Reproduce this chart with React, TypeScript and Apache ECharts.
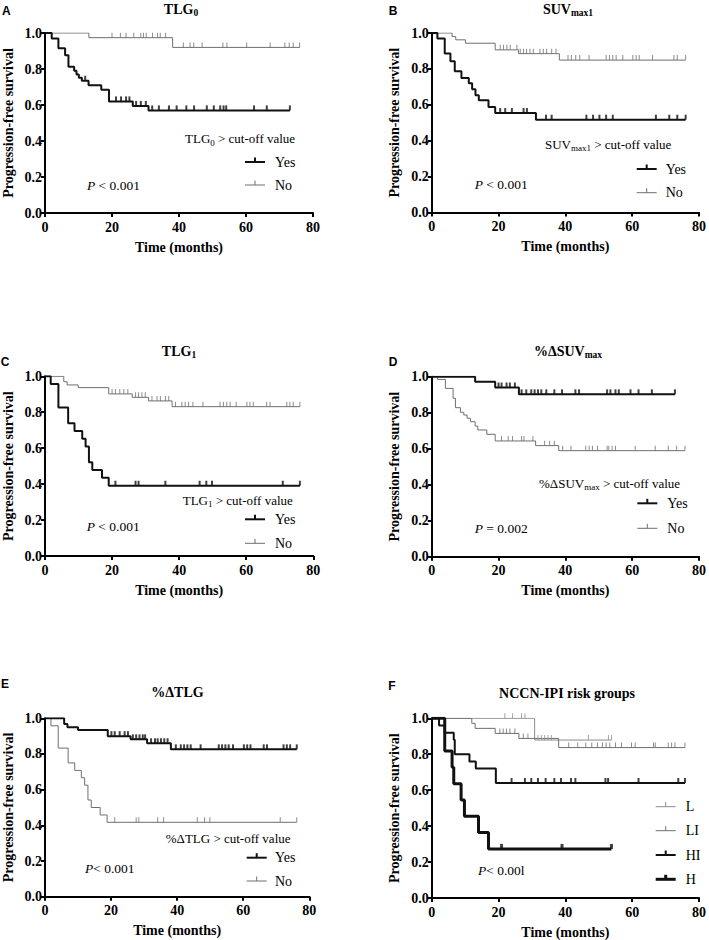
import React, { useEffect, useRef } from "react";
import * as echarts from "echarts";

const SERIF = "Liberation Serif, Times New Roman, serif";
const SANS = "Liberation Sans, Arial, sans-serif";
const BLACK = "#111111";
const GRAY = "#6f6f6f";
const LIGHT = "#8c8c8c";

// ---------- Panel A: TLG0 ----------
const aYesEvents = [[2.0, 0.97], [4.0, 0.915], [6.0, 0.877], [7.0, 0.813], [8.7, 0.79], [9.4, 0.77], [10.1, 0.752], [11.0, 0.735], [13.0, 0.71], [16.8, 0.685], [19.1, 0.62], [26.2, 0.595], [30.9, 0.57]];
const aYesEnd = 73.1;
const aYesCensor = [12.0, 21.2, 22.7, 24.2, 25.2, 27.2, 28.6, 30.1, 32.0, 34.0, 37.0, 39.3, 42.2, 44.5, 48.3, 50.4, 52.3, 53.3, 54.1, 62.4, 66.2, 73.1];
const aNoEvents = [[13.1, 0.974], [38.1, 0.92]];
const aNoEnd = 76.0;
const aNoCensor = [20.0, 22.5, 24.2, 26.5, 28.6, 29.4, 30.2, 32.1, 33.6, 34.4, 36.0, 41.3, 43.3, 44.4, 46.9, 53.1, 54.3, 60.2, 67.2, 71.6, 72.9, 74.1, 76.0];

// ---------- Panel B: SUVmax1 ----------
const bYesEvents = [[1.7, 0.97], [3.9, 0.886], [5.6, 0.843], [6.9, 0.787], [8.9, 0.75], [11.1, 0.72], [12.1, 0.687], [13.1, 0.653], [14.1, 0.625], [17.0, 0.588], [19.0, 0.554], [31.2, 0.517]];
const bYesEnd = 76.0;
const bYesCensor = [20.5, 22.0, 24.0, 27.5, 28.5, 34.2, 35.9, 46.3, 48.3, 50.2, 52.2, 54.2, 67.1, 71.1, 73.5, 76.0];
const bNoEvents = [[6.1, 0.98], [7.2, 0.962], [10.1, 0.943], [19.0, 0.906], [26.0, 0.885], [38.2, 0.849]];
const bNoEnd = 76.0;
const bNoCensor = [20.5, 21.5, 22.5, 23.5, 25.5, 26.5, 27.5, 28.4, 29.4, 30.4, 32.4, 33.4, 34.4, 35.9, 37.2, 40.8, 41.8, 43.1, 44.3, 47.1, 52.2, 53.2, 54.2, 55.2, 57.2, 60.2, 61.2, 62.1, 66.1, 72.5, 73.5, 76.0];

// ---------- Panel C: TLG1 ----------
const cYesEvents = [[1.7, 0.957], [4.0, 0.826], [6.9, 0.739], [8.8, 0.696], [11.1, 0.652], [12.1, 0.609], [13.1, 0.522], [14.1, 0.478], [17.0, 0.435], [19.0, 0.391]];
const cYesEnd = 76.0;
const cYesCensor = [21.0, 27.0, 27.9, 35.9, 46.1, 48.1, 49.8, 70.9, 76.0];
const cNoEvents = [[5.6, 0.97], [6.6, 0.952], [9.9, 0.937], [19.0, 0.902], [26.0, 0.883], [30.9, 0.863], [37.9, 0.831]];
const cNoEnd = 76.0;
const cNoCensor = [20.0, 21.0, 22.3, 23.5, 24.7, 27.0, 27.9, 28.9, 29.9, 31.9, 33.4, 34.4, 35.9, 36.9, 38.9, 40.8, 41.8, 42.8, 44.1, 47.1, 52.2, 53.2, 54.2, 55.2, 57.0, 60.2, 61.1, 62.1, 66.1, 67.1, 72.1, 73.0, 74.0, 76.0];

// ---------- Panel D: %ΔSUVmax ----------
const dYesEvents = [[13.0, 0.972], [19.0, 0.94], [26.1, 0.902]];
const dYesEnd = 72.8;
const dYesCensor = [20.0, 20.9, 22.4, 23.4, 24.9, 26.9, 28.3, 29.8, 30.8, 31.8, 32.8, 34.3, 36.7, 39.0, 43.0, 44.1, 52.5, 53.5, 55.0, 56.0, 59.5, 61.9, 65.9, 72.8];
const dNoEvents = [[1.7, 0.985], [4.1, 0.935], [6.4, 0.88], [7.1, 0.828], [8.6, 0.802], [9.6, 0.787], [10.6, 0.769], [11.6, 0.75], [13.0, 0.726], [13.8, 0.704], [16.5, 0.68], [19.0, 0.643], [31.1, 0.617], [38.0, 0.589]];
const dNoEnd = 75.8;
const dNoCensor = [20.9, 22.9, 24.2, 26.9, 27.6, 30.3, 33.8, 35.3, 36.7, 39.2, 41.7, 46.1, 47.1, 48.1, 49.6, 52.5, 53.0, 54.0, 55.0, 60.9, 66.9, 70.8, 73.3, 75.8];

// ---------- Panel E: %ΔTLG ----------
const eYesEvents = [[5.8, 0.968], [6.8, 0.95], [10.0, 0.935], [19.0, 0.9], [25.9, 0.882], [30.9, 0.86], [38.1, 0.826]];
const eYesEnd = 76.2;
const eYesCensor = [20.1, 21.1, 22.6, 24.1, 25.1, 26.6, 27.6, 28.6, 29.6, 30.3, 32.1, 33.3, 34.1, 35.1, 36.1, 37.1, 39.6, 41.1, 42.1, 43.1, 44.1, 47.1, 52.6, 53.6, 54.6, 55.6, 56.9, 60.2, 61.2, 62.2, 66.2, 67.2, 72.2, 73.2, 74.2, 76.2];
const eNoEvents = [[1.8, 0.958], [4.0, 0.833], [7.0, 0.75], [9.0, 0.708], [11.0, 0.667], [12.0, 0.625], [13.0, 0.542], [14.0, 0.5], [16.7, 0.458], [18.8, 0.417]];
const eNoEnd = 76.2;
const eNoCensor = [21.1, 27.6, 28.4, 34.1, 35.9, 46.1, 48.3, 49.9, 71.2, 76.2];

// ---------- Panel F: NCCN-IPI ----------
const fLEvents = [[30.8, 0.879]];
const fLEnd = 53.8;
const fLCensor = [21.9, 24.2, 26.9, 27.9, 31.8, 32.8, 33.8, 34.8, 35.8, 46.9, 52.9, 53.8];
const fLIEvents = [[12.0, 0.972], [13.0, 0.944], [19.0, 0.916], [26.1, 0.888], [38.0, 0.837]];
const fLIEnd = 75.8;
const fLICensor = [20.4, 21.4, 22.4, 23.4, 24.9, 27.4, 28.8, 41.0, 43.7, 46.1, 47.9, 49.6, 51.1, 52.2, 53.3, 55.0, 56.8, 59.8, 60.9, 66.4, 66.9, 70.8, 71.8, 72.8, 75.8];
const fHIEvents = [[2.2, 0.96], [3.9, 0.92], [6.6, 0.88], [6.9, 0.8], [11.3, 0.76], [13.2, 0.72], [19.2, 0.64]];
const fHIEnd = 75.8;
const fHICensor = [23.9, 27.9, 29.8, 31.8, 34.1, 36.7, 38.7, 41.7, 43.0, 52.0, 52.8, 61.9, 73.8, 75.8];
const fHEvents = [[3.9, 0.818], [6.1, 0.727], [6.6, 0.636], [8.8, 0.545], [9.8, 0.455], [14.0, 0.364], [17.0, 0.273]];
const fHEnd = 53.8;
const fHCensor = [20.9, 39.0, 53.8];

const xTicks = [0, 20, 40, 60, 80];
const yTicks = [0, 0.2, 0.4, 0.6, 0.8, 1.0];

// grid boxes (layout only)
const grids = [
  { left: 43.5, top: 33, width: 269.5, height: 180 },
  { left: 431.7, top: 33, width: 269, height: 179.5 },
  { left: 44.3, top: 376.3, width: 269, height: 179.7 },
  { left: 431.7, top: 376.7, width: 270, height: 180 },
  { left: 43.3, top: 718.3, width: 266, height: 178.4 },
  { left: 431.7, top: 718.3, width: 270, height: 180 },
];

function stepAt(events: number[][], t: number): number {
  let s = 1;
  for (const [et, es] of events) if (et <= t) s = es;
  return s;
}

function curve(idx: number, events: number[][], end: number, censor: number[], color: string, width: number, z: number) {
  const last = events.length ? events[events.length - 1][1] : 1;
  const data = [[0, 1], ...events, [end, last]];
  return [
    {
      type: "line",
      xAxisIndex: idx,
      yAxisIndex: idx,
      step: "end",
      data,
      symbol: "none",
      showSymbol: false,
      silent: true,
      z,
      lineStyle: { color, width },
    },
    {
      type: "scatter",
      xAxisIndex: idx,
      yAxisIndex: idx,
      data: censor.map((t) => [t, stepAt(events, t)]),
      symbol: "rect",
      symbolSize: [width, 5],
      symbolOffset: [0, -2.5],
      silent: true,
      z,
      itemStyle: { color },
    },
  ];
}

const labelStyle = { color: "#000", fontFamily: SERIF, fontWeight: "bold", fontSize: 14 };

function txt(x: number, y: number, text: string, rich: any, align = "left") {
  return {
    type: "text",
    x,
    y,
    silent: true,
    style: {
      text,
      rich,
      fill: "#000",
      fontFamily: SERIF,
      fontSize: 13,
      align,
      verticalAlign: "middle",
      textAlign: align,
      textVerticalAlign: "middle",
    },
  };
}

const richN = {
  n: { fontFamily: SERIF, fontSize: 13, lineHeight: 17, fill: "#000" },
  i: { fontFamily: SERIF, fontSize: 13, lineHeight: 17, fontStyle: "italic", fill: "#000" },
  s: { fontFamily: SERIF, fontSize: 9, lineHeight: 9, verticalAlign: "bottom", fill: "#000" },
};
const richP = {
  n: { fontFamily: SERIF, fontSize: 13.5, lineHeight: 17, fill: "#000" },
  i: { fontFamily: SERIF, fontSize: 13.5, lineHeight: 17, fontStyle: "italic", fill: "#000" },
};
const richB = {
  b: { fontFamily: SERIF, fontSize: 14, fontWeight: "bold", lineHeight: 18, fill: "#000" },
  s: { fontFamily: SERIF, fontSize: 9.5, fontWeight: "bold", lineHeight: 10, verticalAlign: "bottom", fill: "#000" },
};

function letter(x: number, y: number, t: string) {
  return {
    type: "text",
    x,
    y,
    silent: true,
    style: { text: t, fill: "#000", fontFamily: SANS, fontWeight: "bold", fontSize: 12, align: "center", verticalAlign: "middle", textAlign: "center", textVerticalAlign: "middle" },
  };
}

function legendItem(x1: number, y: number, color: string, width: number, label: string, tx: number) {
  const x2 = x1 + 20;
  const mx = (x1 + x2) / 2;
  return [
    { type: "line", silent: true, shape: { x1, y1: y, x2, y2: y }, style: { stroke: color, lineWidth: width } },
    { type: "line", silent: true, shape: { x1: mx, y1: y, x2: mx, y2: y - 4.5 }, style: { stroke: color, lineWidth: width } },
    txt(tx, y, `{n|${label}}`, { n: { ...richN.n, fontSize: 14 } }),
  ];
}

export default function App() {
  const ref = useRef<HTMLDivElement>(null);
  useEffect(() => {
    if (!ref.current) return;
    const chart = echarts.init(ref.current, null, { renderer: "svg" });

    const xAxes = grids.map((_, i) => ({
      gridIndex: i,
      type: "value",
      min: 0,
      max: 80,
      interval: 20,
      axisLine: { show: true, onZero: false, lineStyle: { color: "#000", width: 2 } },
      axisTick: { show: true, length: 4, lineStyle: { color: "#000", width: 2 } },
      splitLine: { show: false },
      axisLabel: { ...labelStyle, margin: 7, formatter: (v: number) => (xTicks.includes(v) ? String(v) : "") },
      name: "Time (months)",
      nameLocation: "middle",
      nameGap: 27,
      nameTextStyle: { ...labelStyle },
    }));
    const yAxes = grids.map((_, i) => ({
      gridIndex: i,
      type: "value",
      min: 0,
      max: 1,
      interval: 0.2,
      axisLine: { show: true, onZero: false, lineStyle: { color: "#000", width: 2 } },
      axisTick: { show: true, length: 4, lineStyle: { color: "#000", width: 2 } },
      splitLine: { show: false },
      axisLabel: { ...labelStyle, margin: 3, formatter: (v: number) => (yTicks.some((t) => Math.abs(t - v) < 1e-6) ? v.toFixed(1) : "") },
      name: "Progression-free survival",
      nameLocation: "middle",
      nameGap: 30,
      nameTextStyle: { ...labelStyle },
    }));

    const series = [
      ...curve(0, aNoEvents, aNoEnd, aNoCensor, GRAY, 1, 2),
      ...curve(0, aYesEvents, aYesEnd, aYesCensor, BLACK, 2, 3),
      ...curve(1, bNoEvents, bNoEnd, bNoCensor, GRAY, 1, 2),
      ...curve(1, bYesEvents, bYesEnd, bYesCensor, BLACK, 2, 3),
      ...curve(2, cNoEvents, cNoEnd, cNoCensor, GRAY, 1, 2),
      ...curve(2, cYesEvents, cYesEnd, cYesCensor, BLACK, 2, 3),
      ...curve(3, dNoEvents, dNoEnd, dNoCensor, GRAY, 1, 2),
      ...curve(3, dYesEvents, dYesEnd, dYesCensor, BLACK, 2, 3),
      ...curve(4, eNoEvents, eNoEnd, eNoCensor, GRAY, 1, 2),
      ...curve(4, eYesEvents, eYesEnd, eYesCensor, BLACK, 2, 3),
      ...curve(5, fLEvents, fLEnd, fLCensor, LIGHT, 1, 2),
      ...curve(5, fLIEvents, fLIEnd, fLICensor, GRAY, 1, 2),
      ...curve(5, fHIEvents, fHIEnd, fHICensor, BLACK, 2, 3),
      ...curve(5, fHEvents, fHEnd, fHCensor, BLACK, 3, 4),
    ];

    const graphic: any[] = [
      letter(6.3, 11, "A"),
      letter(393, 11, "B"),
      letter(5, 361.5, "C"),
      letter(393, 362, "D"),
      letter(5, 684, "E"),
      letter(392, 686, "F"),
      txt(181, 9, "{b|TLG}{s|0}", richB, "center"),
      txt(568, 9, "{b|SUV}{s|max1}", richB, "center"),
      txt(179, 351, "{b|TLG}{s|1}", richB, "center"),
      txt(568, 351, "{b|%ΔSUV}{s|max}", richB, "center"),
      txt(177.5, 692.5, "{b|%ΔTLG}", richB, "center"),
      txt(567, 693, "{b|NCCN-IPI risk groups}", richB, "center"),
      txt(185, 138.5, "{n|TLG}{s|0}{n| > cut-off value}", richN),
      txt(545, 144, "{n|SUV}{s|max1}{n| > cut-off value}", richN),
      txt(182.7, 500, "{n|TLG}{s|1}{n| > cut-off value}", richN),
      txt(539, 483.3, "{n|%ΔSUV}{s|max}{n| > cut-off value}", richN),
      txt(165.7, 838.3, "{n|%ΔTLG > cut-off value}", richN),
      txt(87, 185, "{i|P}{n| < 0.001}", richP),
      txt(474.7, 184, "{i|P}{n| < 0.001}", richP),
      txt(86.7, 526.7, "{i|P}{n| < 0.001}", richP),
      txt(474.7, 528.3, "{i|P}{n| = 0.002}", richP),
      txt(85, 868.3, "{i|P}{n|< 0.001}", richP),
      txt(478, 870, "{i|P}{n|< 0.00l}", richP),
      ...legendItem(245, 162, BLACK, 2, "Yes", 275),
      ...legendItem(245, 185, GRAY, 1, "No", 275),
      ...legendItem(636.7, 169, BLACK, 2, "Yes", 665.7),
      ...legendItem(636.7, 192.7, GRAY, 1, "No", 665.7),
      ...legendItem(245, 519.3, BLACK, 2, "Yes", 275),
      ...legendItem(245, 543.3, GRAY, 1, "No", 275),
      ...legendItem(637.3, 503.3, BLACK, 2, "Yes", 667.3),
      ...legendItem(637.3, 528.3, GRAY, 1, "No", 667.3),
      ...legendItem(246.7, 857.7, BLACK, 2, "Yes", 275),
      ...legendItem(246.7, 881, GRAY, 1, "No", 275),
      ...legendItem(655.7, 806.7, LIGHT, 1, "L", 685.7),
      ...legendItem(655.7, 830.7, GRAY, 1, "LI", 685.7),
      ...legendItem(655.7, 855, BLACK, 2, "HI", 685.7),
      ...legendItem(655.7, 879.3, BLACK, 3, "H", 685.7),
    ];

    chart.setOption({
      animation: false,
      backgroundColor: "#ffffff",
      grid: grids.map((g) => ({ ...g, containLabel: false })),
      xAxis: xAxes,
      yAxis: yAxes,
      series,
      graphic,
    });
    return () => chart.dispose();
  }, []);
  return <div ref={ref} style={{ position: "absolute", left: 0, top: 0, width: 709, height: 940 }} />;
}
